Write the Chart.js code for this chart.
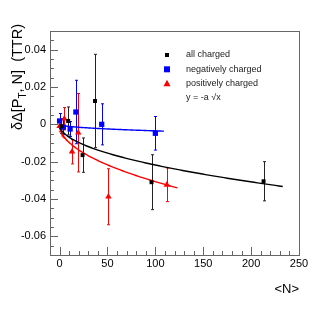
<!DOCTYPE html>
<html>
<head>
<meta charset="utf-8">
<script src="https://cdn.jsdelivr.net/npm/chart.js@4.4.1/dist/chart.umd.min.js"></script>
<style>
html,body{margin:0;padding:0;background:#fff;}
#c{display:block;}
</style>
</head>
<body>
<canvas id="c" width="332" height="319"></canvas>
<script>
// ---- data ----
const seriesNames = ['all charged', 'negatively charged', 'positively charged'];
const allX   = [2, 9, 24, 37, 96, 213];
const allY   = [-0.001, 0.0018, -0.0165, 0.0125, -0.031, -0.0305];
const allErr = [0.004, 0.0075, 0.0092, 0.025, 0.0147, 0.0105];

const negX   = [0, 4, 11, 17, 44, 100];
const negY   = [0.0018, -0.0015, -0.0025, 0.0066, 0.0, -0.0048];
const negErr = [0.004, 0.004, 0.004, 0.017, 0.011, 0.009];

const posX   = [0, 5, 13, 19.5, 51, 112];
const posY   = [-0.001, 0.003, -0.0147, -0.0045, -0.0388, -0.0324];
const posErr = [0.003, 0.006, 0.0065, 0.021, 0.015, 0.009];

// fit y = -a*sqrt(x): parameter and x-range per series
const fitA     = [0.00218, 0.00035, 0.00307];
const fitRange = [[0.5, 233], [0.5, 109], [0.5, 123]];

const xTickLabels = ['0', '50', '100', '150', '200', '250'];
const yTickLabels = ['-0.06', '-0.04', '-0.02', '0', '0.02', '0.04'];
const fitLabel = 'y = -a \u221Ax';

// ---- build ----
const colors = ['#000000', '#0000ff', '#ff0000'];
function pts(xs, ys) { return xs.map((x, i) => ({x: x, y: ys[i]})); }
function fitCurve(a, r) {
  const out = [];
  const n = 120;
  for (let i = 0; i <= n; i++) {
    const t = i / n;
    const x = r[0] + (r[1] - r[0]) * t * t;
    out.push({x: x, y: -a * Math.sqrt(x)});
  }
  return out;
}
const errSets = [[allX, allY, allErr], [negX, negY, negErr], [posX, posY, posErr]];

const FONT = "'Liberation Sans', Arial, Helvetica, sans-serif";

const decor = {
  id: 'decor',
  beforeDatasetsDraw(chart) {
    const ctx = chart.ctx;
    const xs = chart.scales.x, ys = chart.scales.y;
    ctx.save();
    ctx.lineWidth = 1;
    errSets.forEach((s, k) => {
      ctx.strokeStyle = k === 0 ? '#222' : colors[k];
      s[0].forEach((x, i) => {
        const px = Math.round(xs.getPixelForValue(x)) + 0.5;
        const y1 = ys.getPixelForValue(s[1][i] + s[2][i]);
        const y2 = ys.getPixelForValue(s[1][i] - s[2][i]);
        ctx.beginPath();
        ctx.moveTo(px, y1); ctx.lineTo(px, y2);
        ctx.moveTo(px - 1.5, y1); ctx.lineTo(px + 1.5, y1);
        ctx.moveTo(px - 1.5, y2); ctx.lineTo(px + 1.5, y2);
        ctx.stroke();
      });
    });
    ctx.restore();
  },
  afterDraw(chart) {
    const ctx = chart.ctx;
    const a = chart.chartArea;
    const xs = chart.scales.x, ys = chart.scales.y;
    ctx.save();
    // frame
    ctx.strokeStyle = '#666';
    ctx.lineWidth = 1;
    ctx.strokeRect(Math.round(a.left) + 0.5, Math.round(a.top) + 0.5,
                   Math.round(a.right - a.left), Math.round(a.bottom - a.top));
    // y ticks
    ctx.beginPath();
    for (let v = -0.07; v <= 0.0501; v += 0.005) {
      const py = Math.round(ys.getPixelForValue(v)) + 0.5;
      const major = Math.abs(Math.round(v / 0.02) * 0.02 - v) < 1e-6;
      ctx.moveTo(a.left, py); ctx.lineTo(a.left + (major ? 8 : 4), py);
    }
    // x ticks
    for (let v = 0; v <= 250; v += 10) {
      const px = Math.round(xs.getPixelForValue(v)) + 0.5;
      const major = v % 50 === 0;
      ctx.moveTo(px, a.bottom); ctx.lineTo(px, a.bottom - (major ? 8 : 4));
    }
    ctx.stroke();
    // tick labels
    ctx.fillStyle = '#000';
    ctx.font = '11px ' + FONT;
    ctx.textAlign = 'right'; ctx.textBaseline = 'middle';
    yTickLabels.forEach(t => {
      ctx.fillText(t, a.left - 4, ys.getPixelForValue(parseFloat(t)));
    });
    ctx.textAlign = 'center'; ctx.textBaseline = 'top';
    xTickLabels.forEach(t => {
      ctx.fillText(t, xs.getPixelForValue(parseFloat(t)), a.bottom + 3);
    });
    // x title
    ctx.font = '13px ' + FONT;
    ctx.textAlign = 'right'; ctx.textBaseline = 'middle';
    ctx.fillText('<N>', a.right, 289);
    // y title (rotated)
    ctx.save();
    ctx.translate(18, 130);
    ctx.rotate(-Math.PI / 2);
    ctx.textAlign = 'left'; ctx.textBaseline = 'middle';
    ctx.font = '14.5px ' + FONT;
    let cx = 0;
    const p1 = '\u03B4\u0394[P';
    ctx.fillText(p1, cx, 0); cx += ctx.measureText(p1).width;
    ctx.font = '10px ' + FONT;
    ctx.fillText('T', cx, 5); cx += ctx.measureText('T').width;
    ctx.font = '14.5px ' + FONT;
    ctx.fillText(', N]  (TTR)', cx, 0);
    ctx.restore();
    // legend
    const lx = 167, ly = [55, 69.3, 83.3];
    ctx.font = '9px ' + FONT;
    ctx.textAlign = 'left'; ctx.textBaseline = 'middle';
    seriesNames.forEach((n, k) => {
      ctx.fillStyle = colors[k];
      if (k === 0) ctx.fillRect(lx - 2, ly[k] - 2, 4, 4);
      else if (k === 1) ctx.fillRect(lx - 3, ly[k] - 3, 6, 6);
      else {
        ctx.beginPath();
        ctx.moveTo(lx, ly[k] - 3.5); ctx.lineTo(lx + 3.5, ly[k] + 3); ctx.lineTo(lx - 3.5, ly[k] + 3);
        ctx.closePath(); ctx.fill();
      }
      ctx.fillStyle = '#222';
      ctx.fillText(n, 186, ly[k]);
    });
    ctx.fillText(fitLabel, 186, 97.3);
    ctx.restore();
  }
};

const datasets = [];
[ [allX, allY], [negX, negY], [posX, posY] ].forEach((s, k) => {
  datasets.push({
    label: seriesNames[k],
    data: pts(s[0], s[1]),
    showLine: false,
    pointStyle: k === 2 ? 'triangle' : 'rect',
    pointRadius: k === 0 ? 2.8 : 3.7,
    backgroundColor: colors[k],
    borderColor: colors[k],
    borderWidth: 0,
    order: 1
  });
});
fitA.forEach((aa, k) => {
  datasets.push({
    label: 'fit ' + k,
    data: fitCurve(aa, fitRange[k]),
    showLine: true,
    pointRadius: 0,
    borderColor: colors[k],
    borderWidth: 1.4,
    fill: false,
    tension: 0,
    order: 2
  });
});

new Chart(document.getElementById('c'), {
  type: 'scatter',
  data: { datasets: datasets },
  options: {
    responsive: false,
    animation: false,
    devicePixelRatio: 1,
    layout: { padding: { left: 50, right: 33, top: 31, bottom: 64 } },
    plugins: { legend: { display: false }, tooltip: { enabled: false } },
    scales: {
      x: { type: 'linear', min: -10, max: 250, display: false },
      y: { type: 'linear', min: -0.07, max: 0.05, display: false }
    }
  },
  plugins: [decor]
});
</script>
</body>
</html>
